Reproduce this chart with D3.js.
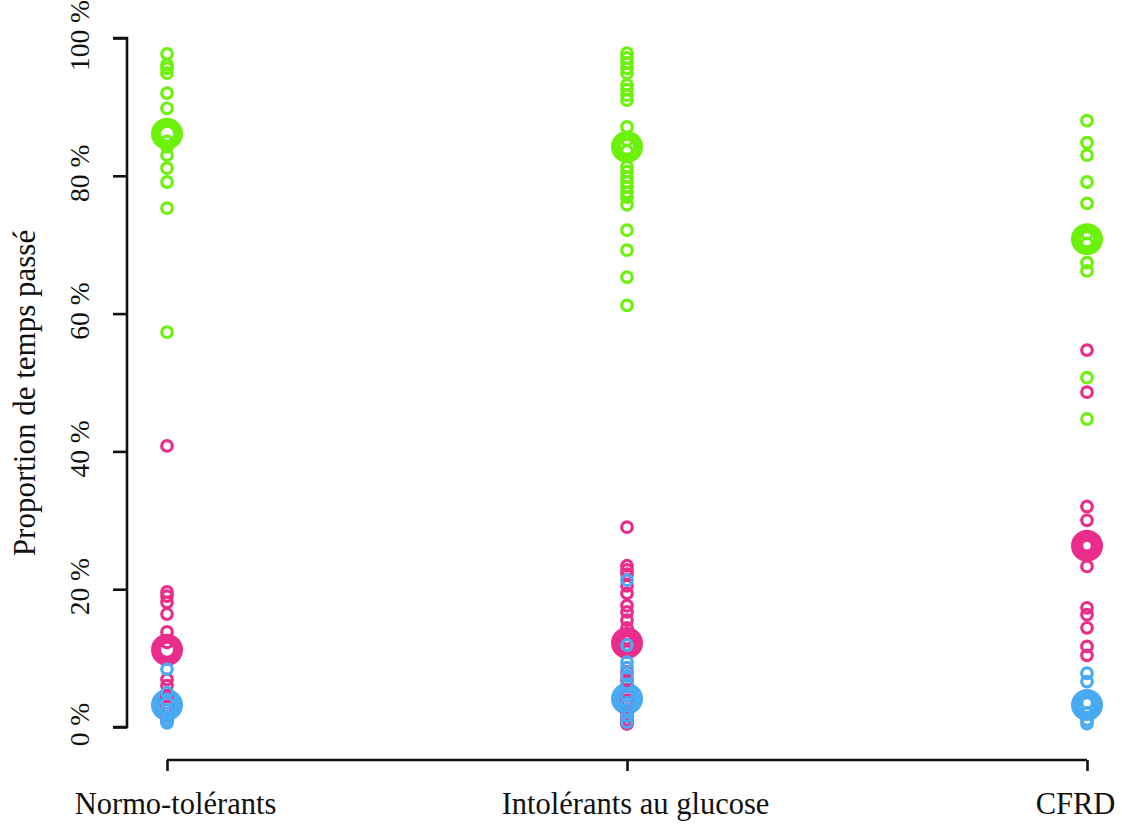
<!DOCTYPE html>
<html>
<head>
<meta charset="utf-8">
<script src="https://cdn.jsdelivr.net/npm/d3@7"></script>
<style>
  html, body { margin: 0; padding: 0; background: #fff; }
  svg { display: block; }
  text { font-family: "Liberation Serif", "DejaVu Serif", serif; fill: #111; }
</style>
</head>
<body>
<svg id="chart" width="1122" height="825"></svg>
<script>
// Groups of patients
const groups = ["Normo-tolérants", "Intolérants au glucose", "CFRD"];

// Individual proportions of time (%) per group, one array per glycaemic range
const greenValues = [
  [97.7, 96.1, 95.6, 94.9, 92.0, 89.8, 85.0, 84.2, 83.0, 81.1, 79.1, 75.3, 57.3],
  [97.8, 97.1, 96.4, 95.6, 94.9, 93.2, 92.5, 91.7, 91.0, 87.1, 85.2, 83.6, 81.3, 80.6,
   79.8, 79.1, 78.4, 77.6, 76.9, 75.8, 72.1, 69.2, 65.3, 61.2],
  [88.0, 84.8, 83.0, 79.1, 76.0, 71.6, 70.2, 67.4, 66.2, 50.7, 44.7]
];
const pinkValues = [
  [40.8, 19.6, 19.0, 18.1, 16.4, 13.8, 12.3, 6.9, 6.0, 4.5, 3.0, 1.5, 1.0],
  [29.0, 23.4, 22.8, 22.2, 20.5, 19.4, 17.6, 16.7, 15.5, 14.4, 13.5, 12.8, 11.0,
   8.0, 6.8, 4.5, 3.9, 2.0, 1.5, 1.0, 0.8, 0.5, 0.5, 0.5],
  [54.7, 48.6, 32.0, 30.0, 26.3, 23.3, 17.3, 16.3, 14.4, 11.7, 10.4]
];
const blueValues = [
  [8.4, 5.0, 3.5, 2.5, 1.5, 1.0, 0.6],
  [21.3, 11.9, 9.4, 8.6, 7.4, 6.2, 4.5, 3.5, 2.5, 1.6, 0.7],
  [7.8, 6.6, 3.5, 2.0, 1.0, 0.5]
];

// Group means (%)
const greenMeans = [86.1, 84.2, 70.8];
const pinkMeans = [11.2, 12.2, 26.3];
const blueMeans = [3.2, 4.1, 3.2];

// Y axis ticks
const yTicks = [0, 20, 40, 60, 80, 100];

const colors = { green: "#6cf20a", pink: "#ea2d8b", blue: "#47aaf3" };

const svg = d3.select("#chart");

const x = d3.scalePoint().domain(groups).range([167, 1087]);
const y = d3.scaleLinear().domain([0, 100]).range([727, 38]);

// Y axis
const yAxis = svg.append("g")
  .attr("transform", "translate(127,0)")
  .call(d3.axisLeft(y).tickValues(yTicks).tickSize(14).tickFormat(d => d + " %"));
yAxis.select(".domain").attr("stroke", "#111").attr("stroke-width", 2.6).attr("d", `M-14,${y(0)}H0V${y(100)}H-14`);
yAxis.selectAll(".tick line").attr("stroke", "#111").attr("stroke-width", 2.6);
yAxis.selectAll(".tick text")
  .attr("font-size", 27.5)
  .attr("text-anchor", "middle")
  .attr("x", 0).attr("y", 0)
  .attr("dy", null)
  .attr("transform", "translate(-38,-3) rotate(-90)")
  .style("font-family", "'Liberation Serif', serif")
  .attr("fill", "#111");

// X axis
const xAxis = svg.append("g")
  .attr("transform", "translate(0,760)")
  .call(d3.axisBottom(x).tickSize(11).tickSizeOuter(0));
xAxis.select(".domain").attr("stroke", "#111").attr("stroke-width", 2.6).attr("d", `M${x(groups[0])},0H${x(groups[2])}`);
xAxis.selectAll(".tick line").attr("stroke", "#111").attr("stroke-width", 2.6);
xAxis.selectAll(".tick text")
  .attr("font-size", 30.5)
  .attr("y", 54)
  .attr("dy", null)
  .style("font-family", "'Liberation Serif', serif")
  .attr("fill", "#111")
  .attr("x", (d, i) => i === groups.length - 1 ? -12 : 8);

// Y axis title
svg.append("text")
  .attr("transform", `translate(35,${393}) rotate(-90)`)
  .attr("text-anchor", "middle")
  .attr("font-size", 31)
  .text("Proportion de temps passé");

// Group means: large thick rings
const meanSets = [
  { vals: greenMeans, c: colors.green },
  { vals: pinkMeans, c: colors.pink },
  { vals: blueMeans, c: colors.blue }
];
meanSets.forEach(s => {
  svg.append("g").selectAll("circle")
    .data(s.vals.map((v, i) => ({ g: groups[i], v })))
    .join("circle")
    .attr("cx", d => x(d.g))
    .attr("cy", d => y(d.v))
    .attr("r", 11)
    .attr("fill", "none")
    .attr("stroke", s.c)
    .attr("stroke-width", 10);
});

// Individual values: small open circles
const pointSets = [
  { vals: greenValues, c: colors.green },
  { vals: pinkValues, c: colors.pink },
  { vals: blueValues, c: colors.blue }
];
pointSets.forEach(s => {
  const pts = [];
  s.vals.forEach((arr, i) => arr.forEach(v => pts.push({ g: groups[i], v })));
  svg.append("g").selectAll("circle")
    .data(pts)
    .join("circle")
    .attr("cx", d => x(d.g))
    .attr("cy", d => y(d.v))
    .attr("r", 5.3)
    .attr("fill", "none")
    .attr("stroke", s.c)
    .attr("stroke-width", 3.2);
});
</script>
</body>
</html>
